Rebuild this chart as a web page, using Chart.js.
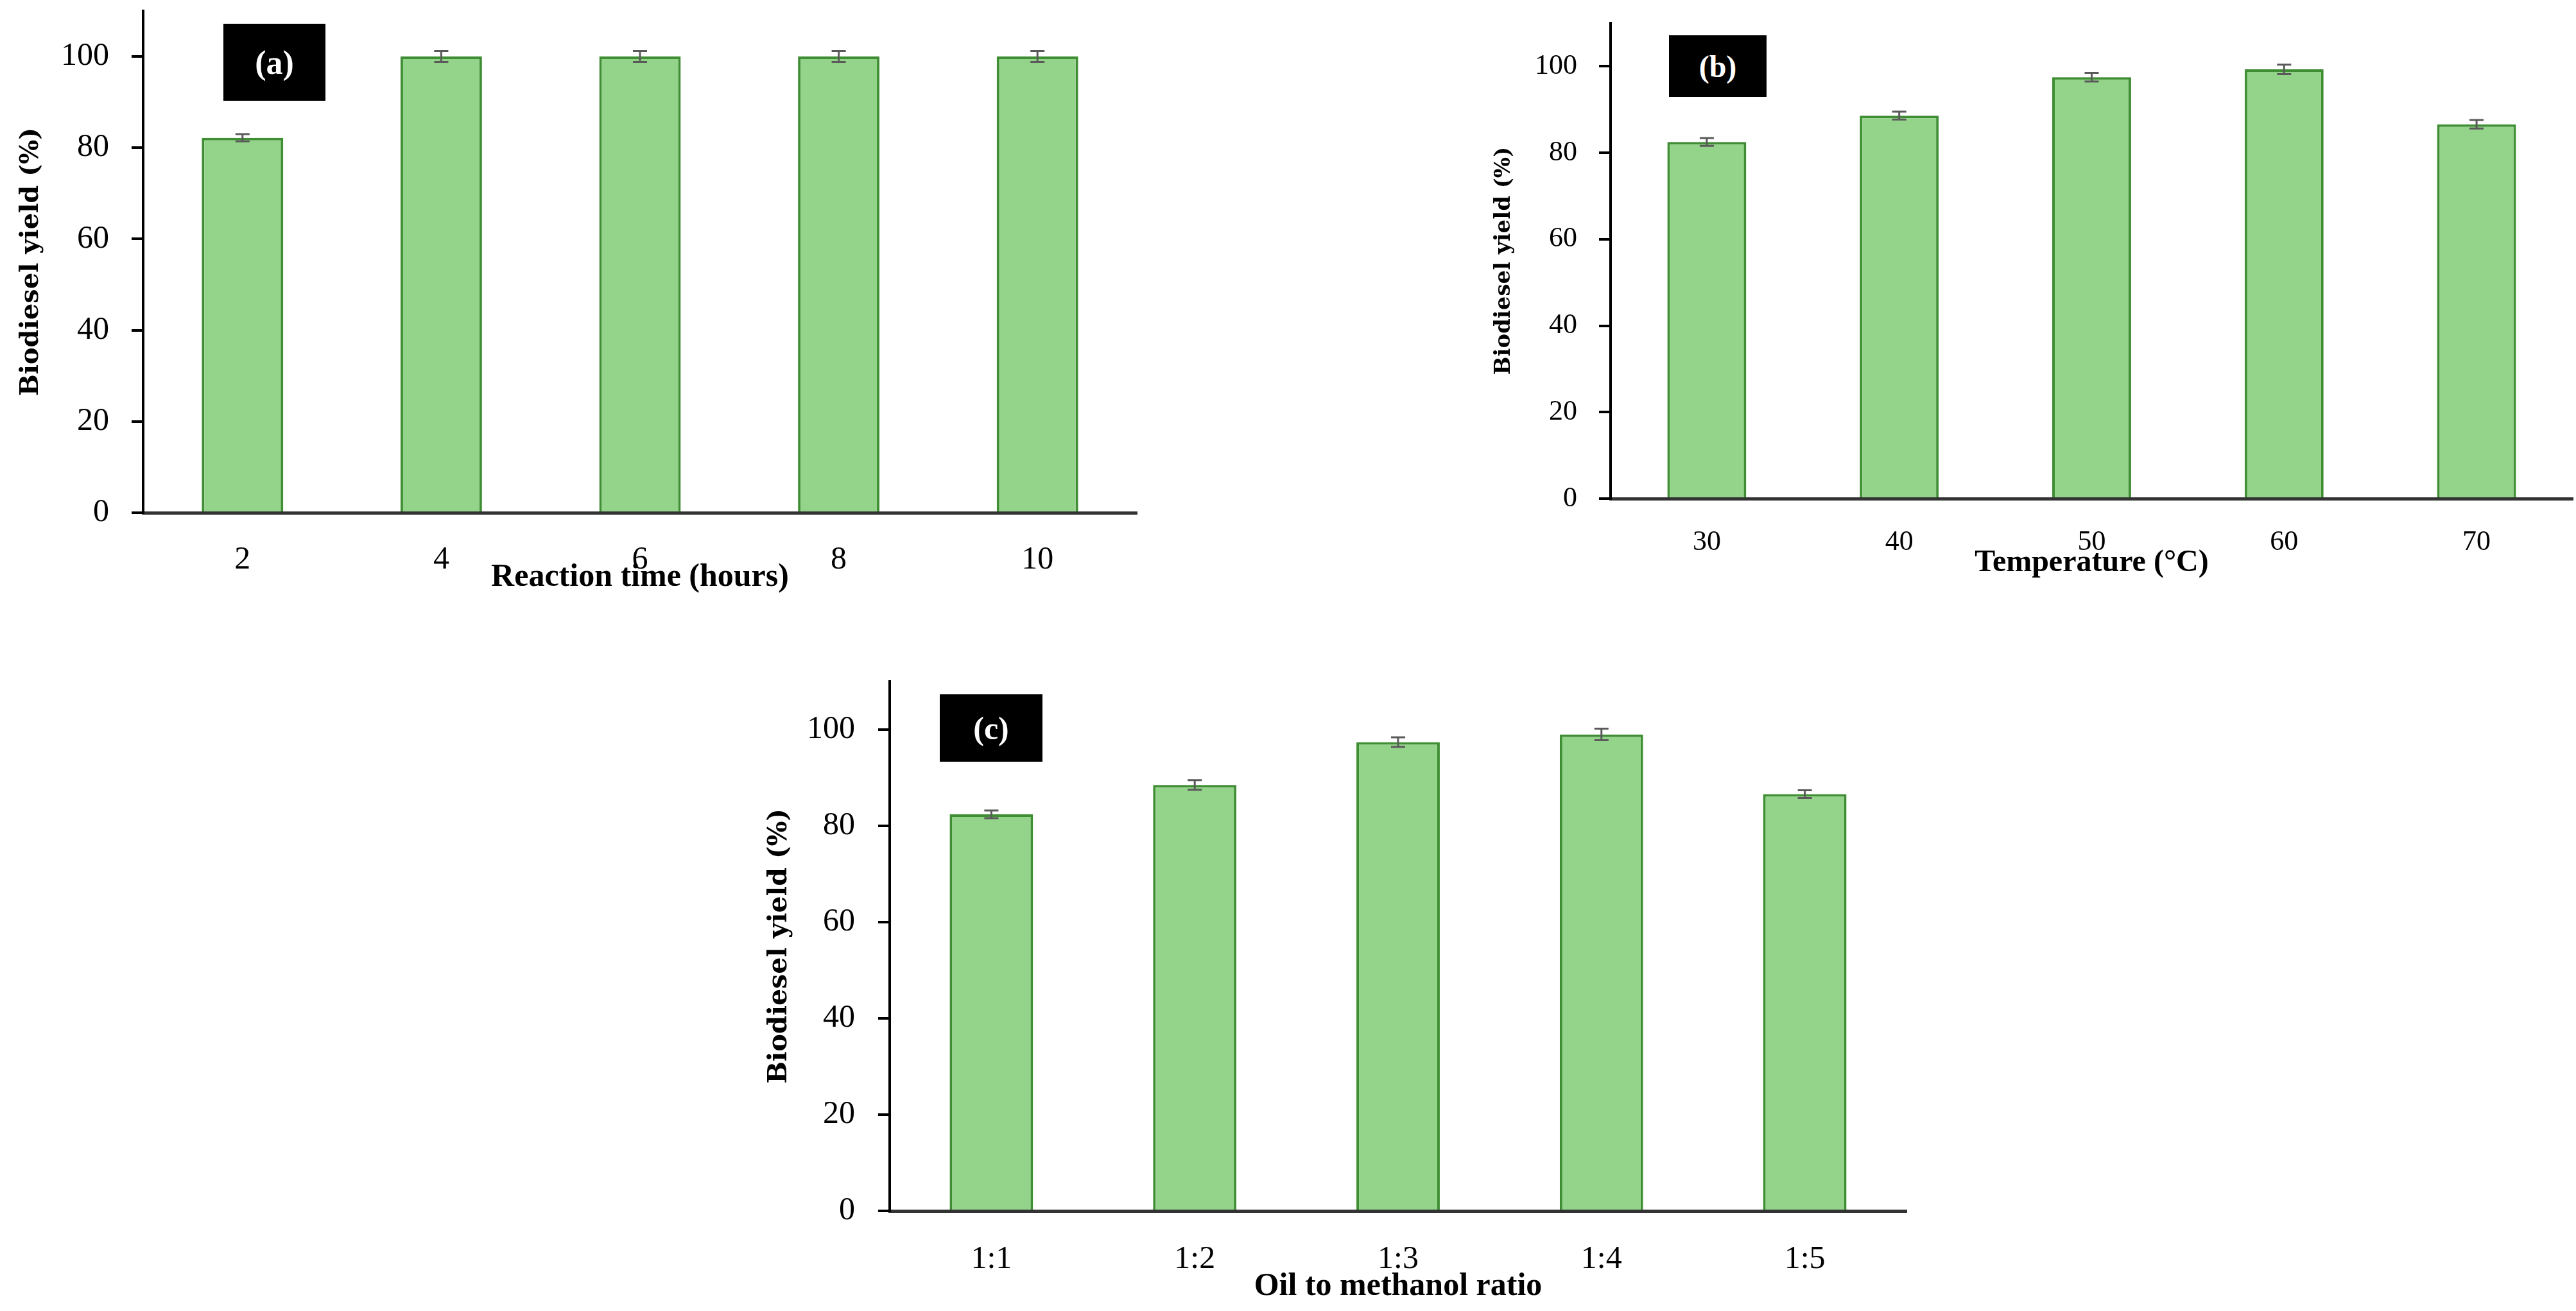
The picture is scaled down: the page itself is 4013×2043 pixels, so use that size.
<!DOCTYPE html>
<html>
<head>
<meta charset="utf-8">
<script src="https://cdn.jsdelivr.net/npm/chart.js@4.4.1/dist/chart.umd.min.js"></script>
<style>
    html, body { margin: 0; padding: 0; background: #fff; }
    body { position: relative; width: 4013px; height: 2043px; overflow: hidden; }
    canvas { position: absolute; }
    .tag {
        position: absolute;
        background: #000;
        color: #fff;
        font-family: "Liberation Serif", serif;
        font-weight: bold;
        display: flex;
        align-items: center;
        justify-content: center;
    }
</style>
</head>
<body>
<canvas id="chart-time" width="1800" height="963" style="left:0px;top:-33px"></canvas>
<canvas id="chart-temp" width="1733" height="920" style="left:2280px;top:-14px"></canvas>
<canvas id="chart-ratio" width="1850" height="1023" style="left:1150px;top:1012px"></canvas>

<div class="tag" style="left:348px;top:37px;width:159px;height:120px;font-size:52px">(a)</div>
<div class="tag" style="left:2600px;top:55px;width:152px;height:96px;font-size:48px">(b)</div>
<div class="tag" style="left:1464px;top:1082px;width:160px;height:105px;font-size:50px">(c)</div>

<script>
// (a) reaction time
var timeLabels = ['2', '4', '6', '8', '10'];
var timeYield = [82.2, 100, 100, 100, 100];
var timeErr = [0.8, 1.2, 1.2, 1.2, 1.2];

// (b) temperature
var tempLabels = ['30', '40', '50', '60', '70'];
var tempYield = [82.5, 88.6, 97.5, 99.3, 86.6];
var tempErr = [0.9, 0.9, 1.0, 1.1, 1.0];

// (c) oil to methanol ratio
var ratioLabels = ['1:1', '1:2', '1:3', '1:4', '1:5'];
var ratioYield = [82.4, 88.5, 97.4, 99.0, 86.6];
var ratioErr = [0.8, 1.0, 1.0, 1.2, 0.8];

var yTicks = [0, 20, 40, 60, 80, 100];

// error bars: value +- err, drawn through the y scale
var errorBarPlugin = {
    id: 'errorBars',
    afterDatasetsDraw: function (chart) {
        var ds = chart.data.datasets[0];
        var meta = chart.getDatasetMeta(0);
        var y = chart.scales.y;
        var ctx = chart.ctx;
        ctx.save();
        ctx.strokeStyle = '#5a5a5a';
        ctx.lineWidth = 3;
        meta.data.forEach(function (bar, i) {
            var top = y.getPixelForValue(ds.data[i] + ds.errors[i]);
            var bot = y.getPixelForValue(ds.data[i] - ds.errors[i]);
            ctx.beginPath();
            ctx.moveTo(bar.x, top);
            ctx.lineTo(bar.x, bot);
            ctx.moveTo(bar.x - 11, top);
            ctx.lineTo(bar.x + 11, top);
            ctx.moveTo(bar.x - 11, bot);
            ctx.lineTo(bar.x + 11, bot);
            ctx.stroke();
        });
        ctx.restore();
    }
};

function buildChart(id, labels, values, errors, s) {
    var ctx = document.getElementById(id).getContext('2d');
    return new Chart(ctx, {
        type: 'bar',
        data: {
            labels: labels,
            datasets: [{
                data: values,
                errors: errors,
                backgroundColor: '#94d38a',
                borderColor: '#3f8e34',
                borderWidth: 4,
                barPercentage: 0.41,
                categoryPercentage: 1.0
            }]
        },
        options: {
            responsive: false,
            animation: false,
            devicePixelRatio: 1,
            layout: {
                padding: { top: s.padTop, right: s.padRight, left: 0, bottom: 0 }
            },
            plugins: {
                legend: { display: false },
                tooltip: { enabled: false }
            },
            scales: {
                x: {
                    afterFit: function (scale) {
                        scale.height = s.xHeight;
                        scale.paddingLeft = 0;
                        scale.paddingRight = 0;
                    },
                    grid: { display: false },
                    border: { display: true, color: '#333333', width: 5 },
                    ticks: {
                        color: '#000',
                        padding: s.xPad,
                        font: { family: 'Liberation Serif', size: s.tickSize }
                    },
                    title: {
                        display: true,
                        text: s.xTitle,
                        color: '#000',
                        padding: 0,
                        font: { family: 'Liberation Serif', size: s.titleSize, weight: 'bold' }
                    }
                },
                y: {
                    min: 0,
                    max: 110,
                    afterBuildTicks: function (scale) {
                        scale.ticks = yTicks.map(function (v) { return { value: v }; });
                    },
                    afterFit: function (scale) {
                        scale.width = s.yWidth;
                        scale.paddingTop = 0;
                        scale.paddingBottom = 0;
                    },
                    grid: {
                        drawOnChartArea: false,
                        drawTicks: true,
                        tickLength: 18,
                        color: '#000',
                        lineWidth: 4
                    },
                    border: { display: true, color: '#000', width: 4 },
                    ticks: {
                        color: '#000',
                        padding: s.yPad,
                        font: { family: 'Liberation Serif', size: s.tickSize }
                    },
                    title: {
                        display: true,
                        text: 'Biodiesel yield (%)',
                        color: '#000',
                        padding: { top: s.yTitlePad, bottom: 0 },
                        font: { family: 'DejaVu Serif', size: s.yTitleSize, weight: 'bold' }
                    }
                }
            }
        },
        plugins: [errorBarPlugin]
    });
}

buildChart('chart-time', timeLabels, timeYield, timeErr, {
    xTitle: 'Reaction time (hours)',
    padTop: 50, padRight: 29, yWidth: 223, xHeight: 131,
    tickSize: 50, titleSize: 50, xPad: 36, yPad: 35,
    yTitleSize: 40, yTitlePad: 25
});

buildChart('chart-temp', tempLabels, tempYield, tempErr, {
    xTitle: 'Temperature (°C)',
    padTop: 50, padRight: 5, yWidth: 229, xHeight: 129,
    tickSize: 44, titleSize: 48, xPad: 34, yPad: 34,
    yTitleSize: 34, yTitlePad: 43
});

buildChart('chart-ratio', ratioLabels, ratioYield, ratioErr, {
    xTitle: 'Oil to methanol ratio',
    padTop: 50, padRight: 30, yWidth: 236, xHeight: 148,
    tickSize: 50, titleSize: 50, xPad: 38, yPad: 36,
    yTitleSize: 41, yTitlePad: 40
});
</script>
</body>
</html>
